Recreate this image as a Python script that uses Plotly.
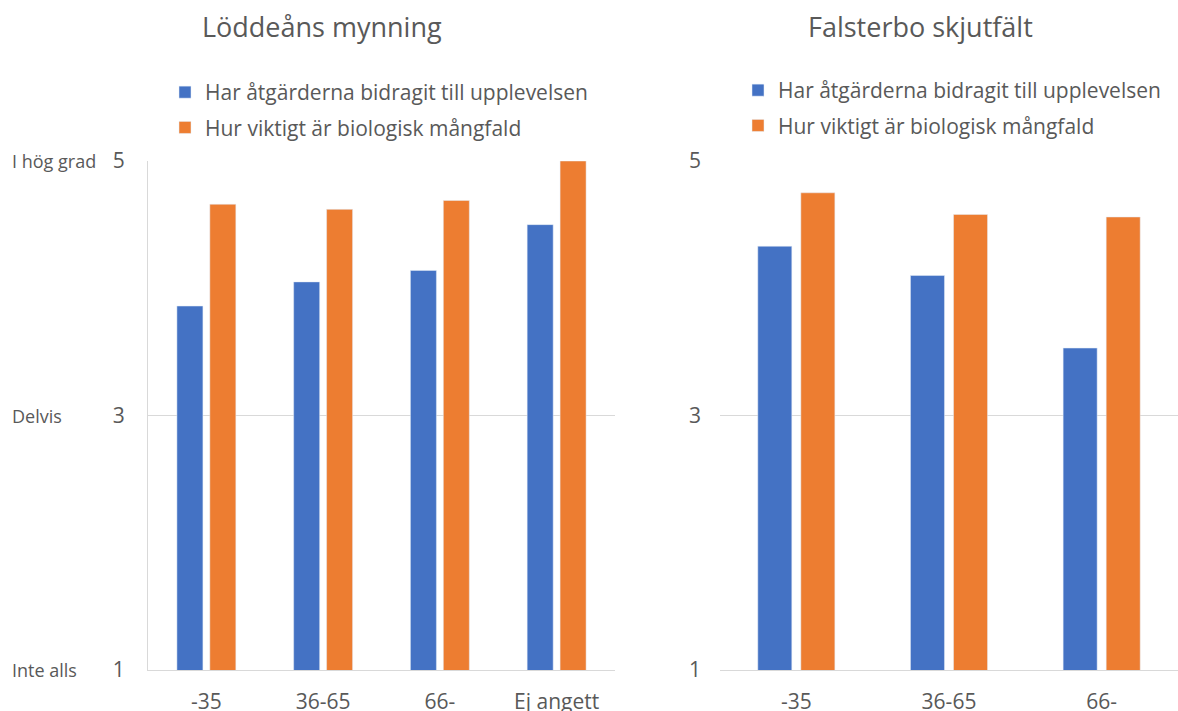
import plotly.graph_objects as go

cats_left = ["-35", "36-65", "66-", "Ej angett"]
cats_right = ["-35", "36-65", "66-"]
left_bidragit = [3.86, 4.05, 4.14, 4.50]
left_viktigt = [4.66, 4.62, 4.69, 5.00]
right_bidragit = [4.33, 4.10, 3.53]
right_viktigt = [4.75, 4.58, 4.56]
name_a = "Har åtgärderna bidragit till upplevelsen"
name_b = "Hur viktigt är biologisk mångfald"
ytickvals = [1, 3, 5]
ylabels = {5: "I hög grad", 3: "Delvis", 1: "Inte alls"}

BLUE = "#4472C4"
ORANGE = "#ED7D31"
GRID = "#D9D9D9"
TXT = "#595959"
FONT = "Open Sans"
W, H = 1178, 711


def px(v):
    return v / W


def py(v):
    return 1 - v / H


fig = go.Figure()
fig.add_trace(go.Bar(x=cats_left, y=left_bidragit, name=name_a, marker_color=BLUE,
                     xaxis="x", yaxis="y", legend="legend", legendgroup="a"))
fig.add_trace(go.Bar(x=cats_left, y=left_viktigt, name=name_b, marker_color=ORANGE,
                     xaxis="x", yaxis="y", legend="legend", legendgroup="b"))
fig.add_trace(go.Bar(x=cats_right, y=right_bidragit, name=name_a, marker_color=BLUE,
                     xaxis="x2", yaxis="y2", legend="legend2", legendgroup="a2"))
fig.add_trace(go.Bar(x=cats_right, y=right_viktigt, name=name_b, marker_color=ORANGE,
                     xaxis="x2", yaxis="y2", legend="legend2", legendgroup="b2"))

ydom = [py(670), py(161)]
axfont = dict(family=FONT, size=21, color=TXT)
common_x = dict(showline=True, linecolor=GRID, linewidth=1, showgrid=False,
                tickfont=axfont, ticks="", ticklabelstandoff=13, fixedrange=True,
                automargin=False)
common_y = dict(range=[1, 5], tickvals=ytickvals, showgrid=True, gridcolor=GRID,
                gridwidth=1, zeroline=False, tickfont=axfont, ticks="",
                ticklabelstandoff=18, domain=ydom, automargin=False, fixedrange=True)

legend_common = dict(font=dict(family=FONT, size=21, color=TXT), bgcolor="rgba(0,0,0,0)",
                     orientation="v", xanchor="left", yanchor="top",
                     tracegroupgap=5, itemwidth=30, traceorder="grouped")

fig.update_layout(
    width=W, height=H,
    margin=dict(l=0, r=0, t=0, b=0, autoexpand=False),
    plot_bgcolor="white", paper_bgcolor="white",
    barmode="group", bargap=0.436, bargroupgap=0.21,
    xaxis=dict(domain=[px(148), px(615)], anchor="y", **common_x),
    yaxis=dict(anchor="x", showline=True, linecolor=GRID, **common_y),
    xaxis2=dict(domain=[px(720), 1.0], anchor="y2", **common_x),
    yaxis2=dict(anchor="x2", showline=False, **common_y),
    legend=dict(x=px(165), y=py(72), **legend_common),
    legend2=dict(x=px(738), y=py(70), **legend_common),
    showlegend=True,
)

annotations = [
    dict(text="Löddeåns mynning", x=px(322), y=py(27), xref="paper", yref="paper",
         showarrow=False, font=dict(family=FONT, size=27, color=TXT), xanchor="center", yanchor="middle"),
    dict(text="Falsterbo skjutfält", x=px(920), y=py(27), xref="paper", yref="paper",
         showarrow=False, font=dict(family=FONT, size=27, color=TXT), xanchor="center", yanchor="middle"),
]
for v, t in ylabels.items():
    annotations.append(dict(text=t, x=px(10), y=v, xref="paper", yref="y", showarrow=False,
                            xanchor="left", yanchor="middle",
                            font=dict(family=FONT, size=18, color=TXT)))
fig.update_layout(annotations=annotations)

fig.write_html(
    "out.html",
    config={"displayModeBar": False},
    post_script="document.body.style.margin='0';document.body.style.overflow='hidden';",
)
